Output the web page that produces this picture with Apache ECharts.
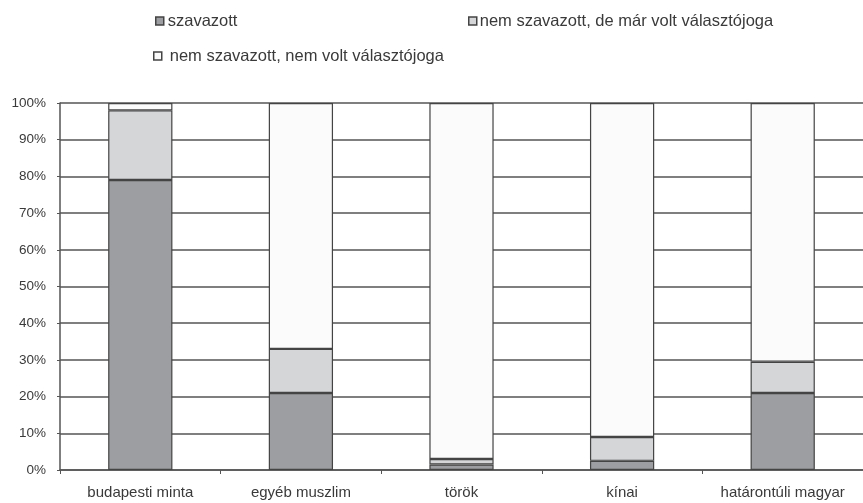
<!DOCTYPE html>
<html><head><meta charset="utf-8">
<script src="https://cdn.jsdelivr.net/npm/echarts@6/dist/echarts.min.js"></script>
<style>html,body{margin:0;padding:0;background:#fff}#c{width:863px;height:503px}</style>
</head><body><div id="c"></div>
<script>
const categories = ['budapesti minta', 'egyéb muszlim', 'török', 'kínai', 'határontúli magyar'];
const seriesNames = ['szavazott', 'nem szavazott, de már volt választójoga', 'nem szavazott, nem volt választójoga'];
const voted = [79, 21, 1.5, 2.5, 21];
const notVotedHadRight = [19, 12, 1.5, 6.5, 8.5];
const notVotedNoRight = [2, 67, 97, 91, 70.5];
const yTicks = [0, 10, 20, 30, 40, 50, 60, 70, 80, 90, 100];

const colors = ['#9d9ea1', '#d5d6d8', '#fbfbfb'];
const values = [voted, notVotedHadRight, notVotedNoRight];
const font = 'Liberation Sans, Arial, sans-serif';
const legendText = (pad) => ({fontFamily: font, fontSize: 16.5, lineHeight: 20, color: '#3a3a3a', padding: pad});
const legendIcon = {borderColor: '#444', borderWidth: 1.5};
const chart = echarts.init(document.getElementById('c'));
chart.setOption({
  animation: false,
  backgroundColor: '#fff',
  legend: [
    {data: [seriesNames[0]], left: 150, top: 6, icon: 'rect', itemWidth: 8, itemHeight: 8, itemStyle: legendIcon, textStyle: legendText([0, 0, 0, -1])},
    {data: [seriesNames[1]], left: 463, top: 6, icon: 'rect', itemWidth: 8, itemHeight: 8, itemStyle: legendIcon, textStyle: legendText([0, 0, 0, -2])},
    {data: [seriesNames[2]], left: 148, top: 41, icon: 'rect', itemWidth: 8, itemHeight: 8, itemStyle: legendIcon, textStyle: legendText([0, 0, 0, 3])}
  ],
  grid: {left: 60, top: 103, width: 809, height: 367, containLabel: false},
  xAxis: {
    type: 'category', data: categories,
    axisLine: {lineStyle: {color: '#555', width: 1.5}},
    axisTick: {show: true, length: 4, lineStyle: {color: '#555'}},
    axisLabel: {interval: 0, fontFamily: font, fontSize: 15, color: '#3a3a3a', margin: 15}
  },
  yAxis: {
    type: 'value', min: yTicks[0], max: yTicks[yTicks.length - 1], interval: 10,
    axisLine: {show: true, lineStyle: {color: '#555', width: 1.5}},
    axisTick: {show: true, length: 3, lineStyle: {color: '#555'}},
    axisLabel: {formatter: '{value}%', fontFamily: font, fontSize: 13.5, color: '#3a3a3a', margin: 14},
    splitLine: {lineStyle: {color: '#555', width: 1.5}}
  },
  series: seriesNames.map((n, i) => ({
    name: n, type: 'bar', stack: 'total', data: values[i], barWidth: '40%',
    itemStyle: {color: colors[i], borderColor: '#444', borderWidth: 1.2}
  }))
});
</script></body></html>
